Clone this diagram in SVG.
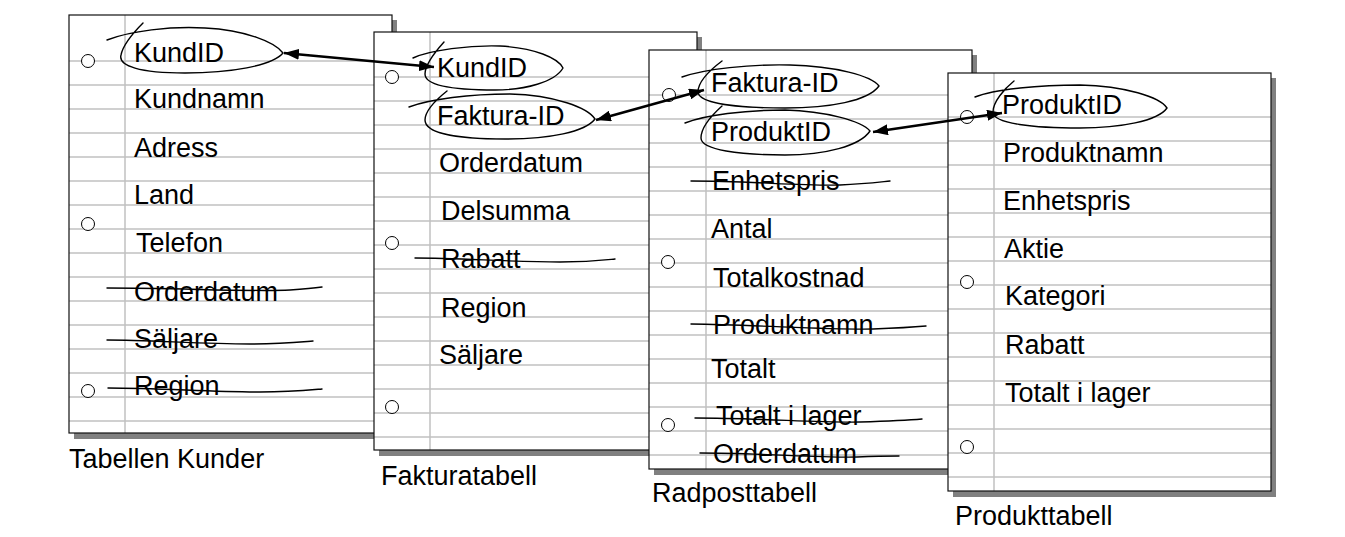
<svg xmlns="http://www.w3.org/2000/svg" xmlns:xlink="http://www.w3.org/1999/xlink" width="1345" height="537" viewBox="0 0 1345 537">
<style>
.shadow{fill:#808080}
.paper{fill:#fff}
.border{fill:none;stroke:#111;stroke-width:1.2}
.rule{stroke:#c0c0c0;stroke-width:1.5}
.margin{stroke:#c0c0c0;stroke-width:1.5}
.hole{fill:#fff;stroke:#000;stroke-width:1}
.t{font-family:"Liberation Sans",Arial,sans-serif;font-size:27px;fill:#000}
.ink{fill:none;stroke:#000;stroke-width:1.4;stroke-linecap:round;stroke-linejoin:round}
.conn{fill:none;stroke:#000;stroke-width:2.6}
</style>
<defs>
<marker id="ah" markerUnits="userSpaceOnUse" markerWidth="16" markerHeight="11" refX="15" refY="5.5" orient="auto-start-reverse">
<path d="M0,0 L15,5.5 L0,11 Z" fill="#000"/>
</marker>
<g id="rules">
<line class="rule" x1="0" y1="0" x2="323" y2="0"/>
<line class="rule" x1="0" y1="24" x2="323" y2="24"/>
<line class="rule" x1="0" y1="48" x2="323" y2="48"/>
<line class="rule" x1="0" y1="72" x2="323" y2="72"/>
<line class="rule" x1="0" y1="96" x2="323" y2="96"/>
<line class="rule" x1="0" y1="120" x2="323" y2="120"/>
<line class="rule" x1="0" y1="144" x2="323" y2="144"/>
<line class="rule" x1="0" y1="168" x2="323" y2="168"/>
<line class="rule" x1="0" y1="192" x2="323" y2="192"/>
<line class="rule" x1="0" y1="216" x2="323" y2="216"/>
<line class="rule" x1="0" y1="240" x2="323" y2="240"/>
<line class="rule" x1="0" y1="264" x2="323" y2="264"/>
<line class="rule" x1="0" y1="288" x2="323" y2="288"/>
<line class="rule" x1="0" y1="312" x2="323" y2="312"/>
<line class="rule" x1="0" y1="336" x2="323" y2="336"/>
<line class="rule" x1="0" y1="360" x2="323" y2="360"/>
</g>
</defs>
<rect width="1345" height="537" fill="#fff"/>

<g id="tabellen-kunder">
<rect class="shadow" x="74" y="20" width="323" height="419"/>
<rect class="paper" x="69" y="15" width="323" height="418"/>
<use xlink:href="#rules" x="69" y="61"/>
<line class="margin" x1="125" y1="15" x2="125" y2="433"/>
<rect class="border" x="69" y="15" width="323" height="418"/>
<circle class="hole" cx="88" cy="61" r="6.5"/>
<circle class="hole" cx="88" cy="224" r="6.5"/>
<circle class="hole" cx="88" cy="391" r="6.5"/>
<text class="t" x="134" y="62">KundID</text>
<text class="t" x="134" y="108">Kundnamn</text>
<text class="t" x="134" y="157">Adress</text>
<text class="t" x="134" y="204">Land</text>
<text class="t" x="136" y="252">Telefon</text>
<text class="t" x="134" y="301">Orderdatum</text>
<text class="t" x="134" y="348">Säljare</text>
<text class="t" x="134" y="395">Region</text>
<path class="ink" d="M107,40 C130,31 170,26 205,28 C245,30 275,42 283,53 C272,66 230,73 185,73 C140,73 118,66 121,55 C123,45 133,33 143,23"/>
<path class="ink" d="M107,288 C180,288 250,292 290,290 C305,289 315,288 322,287"/>
<path class="ink" d="M107,340 C150,340 200,344 250,344 C280,344 300,342 313,341"/>
<path class="ink" d="M108,388 C160,388 210,392 260,392 C290,392 310,390 322,389"/>
<text class="t" x="69" y="468">Tabellen Kunder</text>
</g>

<g id="fakturatabell">
<rect class="shadow" x="379" y="37" width="323" height="419"/>
<rect class="paper" x="374" y="32" width="323" height="418"/>
<use xlink:href="#rules" x="374" y="77"/>
<line class="margin" x1="430" y1="32" x2="430" y2="450"/>
<rect class="border" x="374" y="32" width="323" height="418"/>
<circle class="hole" cx="392" cy="77" r="6.5"/>
<circle class="hole" cx="392" cy="243" r="6.5"/>
<circle class="hole" cx="392" cy="407" r="6.5"/>
<text class="t" x="437" y="77">KundID</text>
<text class="t" x="437" y="125">Faktura-ID</text>
<text class="t" x="439" y="172">Orderdatum</text>
<text class="t" x="441" y="220">Delsumma</text>
<text class="t" x="441" y="268">Rabatt</text>
<text class="t" x="441" y="317">Region</text>
<text class="t" x="439" y="364">Säljare</text>
<path class="ink" d="M413,58 C430,50 470,45 500,46 C535,48 558,58 563,68 C555,82 525,90 495,90 C455,90 425,86 425,74 C425,64 435,52 444,42"/>
<path class="ink" d="M409,107 C430,99 470,94 510,94 C555,95 588,108 595,119 C585,132 550,139 505,139 C460,139 425,134 425,120 C425,110 437,99 447,91"/>
<path class="ink" d="M415,258 C460,258 510,262 560,262 C590,262 605,260 615,259"/>
<text class="t" x="381" y="485">Fakturatabell</text>
</g>

<g id="radposttabell">
<rect class="shadow" x="654" y="55" width="323" height="420"/>
<rect class="paper" x="649" y="50" width="323" height="419"/>
<use xlink:href="#rules" x="649" y="95"/>
<line class="margin" x1="706" y1="50" x2="706" y2="469"/>
<rect class="border" x="649" y="50" width="323" height="419"/>
<circle class="hole" cx="669" cy="95" r="6.5"/>
<circle class="hole" cx="668" cy="262" r="6.5"/>
<circle class="hole" cx="668" cy="425" r="6.5"/>
<text class="t" x="711" y="92">Faktura-ID</text>
<text class="t" x="711" y="141">ProduktID</text>
<text class="t" x="712" y="190">Enhetspris</text>
<text class="t" x="711" y="238">Antal</text>
<text class="t" x="713" y="287">Totalkostnad</text>
<text class="t" x="713" y="334">Produktnamn</text>
<text class="t" x="711" y="378">Totalt</text>
<text class="t" x="716" y="425">Totalt i lager</text>
<text class="t" x="713" y="463">Orderdatum</text>
<path class="ink" d="M682,77 C705,69 750,64 790,65 C835,66 872,76 879,86 C868,101 830,108 785,108 C740,108 699,104 698,92 C698,82 710,70 722,61"/>
<path class="ink" d="M685,123 C705,115 745,110 785,110 C825,111 862,121 870,131 C860,146 825,155 785,155 C740,155 701,150 701,138 C701,128 712,115 722,106"/>
<path class="ink" d="M691,181 C750,181 800,186 840,185 C865,184 880,182 890,181"/>
<path class="ink" d="M691,324 C760,325 830,330 873,329 C900,328 915,327 926,326"/>
<path class="ink" d="M695,418 C760,418 820,423 860,422 C890,421 910,420 922,419"/>
<path class="ink" d="M700,453 C760,453 820,458 857,457 C880,456 892,456 899,456"/>
<text class="t" x="652" y="502">Radposttabell</text>
</g>

<g id="produkttabell">
<rect class="shadow" x="953" y="78" width="323" height="419"/>
<rect class="paper" x="948" y="73" width="323" height="418"/>
<use xlink:href="#rules" x="948" y="117"/>
<line class="margin" x1="994" y1="73" x2="994" y2="491"/>
<rect class="border" x="948" y="73" width="323" height="418"/>
<circle class="hole" cx="967" cy="117" r="6.5"/>
<circle class="hole" cx="967" cy="282" r="6.5"/>
<circle class="hole" cx="967" cy="447" r="6.5"/>
<text class="t" x="1002" y="114">ProduktID</text>
<text class="t" x="1003" y="162">Produktnamn</text>
<text class="t" x="1003" y="210">Enhetspris</text>
<text class="t" x="1004" y="258">Aktie</text>
<text class="t" x="1005" y="305">Kategori</text>
<text class="t" x="1005" y="354">Rabatt</text>
<text class="t" x="1005" y="402">Totalt i lager</text>
<path class="ink" d="M975,97 C995,89 1040,85 1080,85 C1125,86 1160,97 1167,108 C1158,121 1120,128 1080,128 C1035,128 993,124 993,112 C993,102 1004,89 1014,81"/>
<text class="t" x="955" y="525">Produkttabell</text>
</g>

<g id="connectors">
<line class="conn" x1="284" y1="53" x2="434" y2="67" marker-start="url(#ah)" marker-end="url(#ah)"/>
<line class="conn" x1="596" y1="120" x2="704" y2="90" marker-start="url(#ah)" marker-end="url(#ah)"/>
<line class="conn" x1="873" y1="132" x2="1002" y2="113" marker-start="url(#ah)" marker-end="url(#ah)"/>
</g>
</svg>
